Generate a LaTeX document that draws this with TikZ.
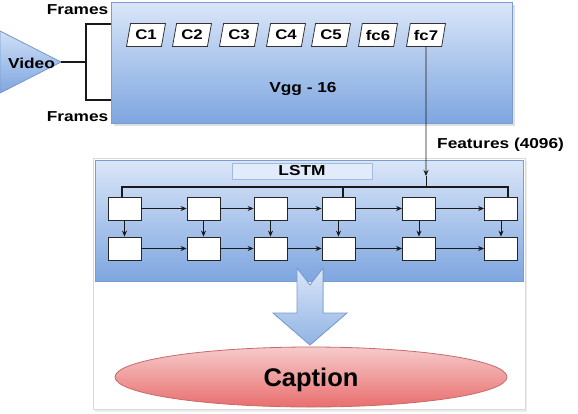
\documentclass[tikz,border=0pt]{standalone}
\usepackage{fontspec}
\setmainfont{Liberation Sans}
\newfontfamily\wf{Liberation Sans}[FakeStretch=1.2]
\usetikzlibrary{shapes.geometric,arrows.meta,shadows}
\definecolor{bdr}{HTML}{7A9CD0}
\definecolor{btop}{HTML}{DAE6F8}
\definecolor{bbot}{HTML}{7EA6E0}
\definecolor{ctop}{HTML}{F6CBCB}
\definecolor{cbot}{HTML}{E96E6E}
\definecolor{cbdr}{HTML}{C86A6A}
\begin{document}
\begin{tikzpicture}[x=1pt,y=-1pt,
  lbl/.style={font=\wf\bfseries\fontsize{14.4}{16}\selectfont, inner sep=0pt},
  conv/.style={trapezium, trapezium left angle=74, trapezium right angle=106, trapezium stretches=true,
     minimum width=39pt, minimum height=23pt, draw=black!80, fill=white, line width=0.8pt, inner sep=0pt,
     font=\wf\bfseries\fontsize{14}{16}\selectfont},
  cell/.style={draw=black!85, fill=white, minimum width=33pt, minimum height=23pt, inner sep=0pt, line width=0.8pt},
  ln/.style={line width=0.9pt, black!90},
  arr/.style={line width=0.8pt, black!90, -{Stealth[length=6pt,width=5pt]}},
  bus/.style={line width=1.4pt, black!90},
  panel/.style={draw=bdr, line width=0.8pt, top color=btop, bottom color=bbot}
]
\useasboundingbox (0,0) rectangle (578,413);

% outer faint frame
\node[draw=black!15, line width=0.8pt, minimum width=432pt, minimum height=251pt, inner sep=0pt,
  drop shadow={shadow xshift=2pt, shadow yshift=-2pt, opacity=0.15}, fill=white] (frame) at (309,284) {};

% VGG box
\node[panel, minimum width=401pt, minimum height=121pt, inner sep=0pt,
  drop shadow={shadow xshift=3pt, shadow yshift=-3pt, opacity=0.25}] (vgg) at (311.5,62.5) {};
\node[lbl] (vggt) at (303,89) {Vgg - 16};

% conv layers
\foreach \n/\t/\x in {c1/C1/146, c2/C2/192, c3/C3/239, c4/C4/286, c5/C5/331, c6/fc6/378, c7/fc7/426}{
  \node[conv] (\n) at (\x,35) {\t};
}

% Video triangle
\filldraw[draw=bdr, line width=0.8pt, top color=btop!90!bbot, bottom color=bbot] (0,31) -- (61,62) -- (0,93) -- cycle;
\node[lbl] (video) at (31.5,63) {Video};
\coordinate (apex) at (61,62);
\coordinate (brk) at (86,62);
\draw[ln, line width=1.3pt] (apex) -- (brk);
\draw[ln, line width=1.3pt] (vgg.west |- 0,24) -| (86,100) -- (vgg.west |- 0,100);
\node[lbl] (fr1) at (77.5,10) {Frames};
\node[lbl] (fr2) at (77.5,117) {Frames};

% LSTM panel
\node[panel, minimum width=428pt, minimum height=121pt, inner sep=0pt] (lstm) at (309,220.5) {};
\node[draw=bdr!70, fill=btop!80!white, line width=0.6pt, minimum width=140pt, minimum height=16pt, inner sep=0pt] (lstmlbl) at (302,171) {};
\node[lbl] (lstmt) at (302,171) {LSTM};

% cells
\foreach \i/\x in {1/124.5, 2/203.5, 3/270.5, 4/338.5, 5/419, 6/501}{
  \node[cell] (t\i) at (\x,208.5) {};
  \node[cell] (b\i) at (\x,248.5) {};
  \draw[arr] (t\i.south) -- (b\i.north);
}
\foreach \i/\j in {1/2,2/3,3/4,4/5,5/6}{
  \draw[arr] (t\i.east) -- (t\j.west);
  \draw[arr] (b\i.east) -- (b\j.west);
}

% features arrow and bus
\coordinate (join) at (426,187);
\coordinate (mid) at (426,176);
\draw[arr] (c7.south) -- (mid);
\draw[ln] (mid) -- (join);
\draw[bus] ([xshift=-2.5pt]t1.north) |- (join) -| ([xshift=7pt]t6.north);
\draw[bus] (join) -| ([xshift=4.5pt]t4.north);
\node[lbl, anchor=west] (feat) at (437,145) {Features (4096)};

% block arrow
\filldraw[draw=bdr, line width=0.8pt, top color=btop, bottom color=bbot!85!white]
  (297,268) -- (310,285) -- (323,268) -- (323,313) -- (347,313) -- (310,345) -- (273,313) -- (297,313) -- cycle;

% caption
\node[ellipse, draw=cbdr, line width=0.8pt, top color=ctop, bottom color=cbot, minimum width=392pt, minimum height=60pt,
  inner sep=0pt, text depth=0pt, font=\bfseries\fontsize{25.5}{28}\selectfont] (cap) at (311,377) {Caption};
\end{tikzpicture}
\end{document}
